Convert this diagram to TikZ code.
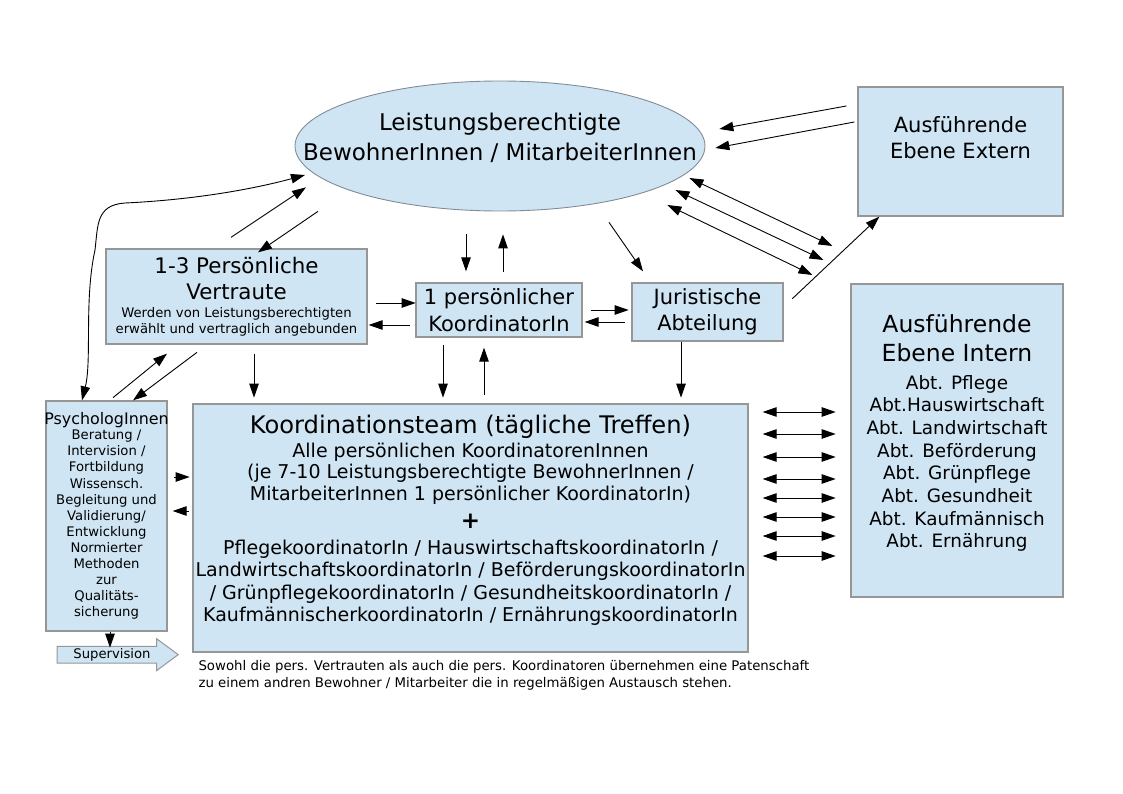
\documentclass[tikz,border=0pt]{standalone}
\usepackage{fontspec}
\setmainfont{DejaVu Sans}
\usetikzlibrary{arrows.meta,positioning,shapes.geometric,shapes.arrows}
\definecolor{boxblue}{RGB}{207,229,243}
\definecolor{boxline}{RGB}{150,150,150}
\definecolor{ellline}{RGB}{130,140,150}
\newcommand{\fsz}[2]{\fontsize{#1}{#2}\selectfont}
\tikzset{
  box/.style={draw=boxline, line width=1.3pt, fill=boxblue, inner sep=0pt, align=center},
  txt/.style={inner sep=0pt, align=center},
  link/.style={line width=0.9pt},
}
\begin{document}
\begin{tikzpicture}[x=1pt,y=1pt,>={Triangle[length=14pt,width=9.5pt]}]
\useasboundingbox (0,0) rectangle (1123,-794);
% boxes
\node[ellipse, draw=ellline, line width=0.9pt, fill=boxblue, minimum width=410pt, minimum height=130pt, inner sep=0pt] (ell) at (500,-146) {};
\node[txt, font=\fsz{23}{30}, below=31.9pt of ell.north] (elltext) {Leistungsberechtigte\\BewohnerInnen / MitarbeiterInnen};
\node[box, minimum width=205pt, minimum height=129pt] (ext) at (960.5,-151.5) {};
\node[txt, font=\fsz{21}{26}, below=29.6pt of ext.north] (exttext) {Ausführende\\Ebene Extern};
\node[box, minimum width=261pt, minimum height=95pt, font=\fsz{21.4}{26}] (vert) at (236.5,-296.5)
  {1-3 Persönliche\\Vertraute\\[-7.9pt]{\fsz{13.2}{16}Werden von Leistungsberechtigten}\\[-10pt]{\fsz{13.2}{16}erwählt und vertraglich angebunden}};
\node[box, minimum width=166pt, minimum height=54pt, font=\fsz{21}{27}] (koord) at (499,-310) {1 persönlicher\\KoordinatorIn};
\node[box, minimum width=151pt, minimum height=58pt, font=\fsz{21}{26}] (jur) at (707.5,-312) {Juristische\\Abteilung};
\node[box, minimum width=212pt, minimum height=313pt] (int) at (957,-440.5) {};
\node[txt, font=\fsz{18.4}{22.7}, below=30.7pt of int.north] (inttext)
  {{\fsz{23.5}{29}Ausführende}\\[6.3pt]{\fsz{23.5}{29}Ebene Intern}\\[5.2pt]Abt. Pflege\\Abt.Hauswirtschaft\\Abt. Landwirtschaft\\Abt. Beförderung\\Abt. Grünpflege\\Abt. Gesundheit\\Abt. Kaufmännisch\\Abt. Ernährung};
\node[box, minimum width=121pt, minimum height=230pt] (psy) at (106.5,-516) {};
\node[txt, font=\fsz{13.2}{16.1}, below=12pt of psy.north] (psytext)
  {{\fsz{15.9}{16}\makebox[116pt]{PsychologInnen}}\\[-1pt]Beratung /\\Intervision /\\Fortbildung\\Wissensch.\\Begleitung und\\Validierung/\\Entwicklung\\Normierter\\Methoden\\zur\\Qualitäts-\\sicherung};
\node[box, minimum width=555pt, minimum height=248pt] (team) at (470.5,-528) {};
\node[txt, font=\fsz{19}{22.4}, below=11.5pt of team.north] (teamtext)
  {{\fsz{24.2}{28}Koordinationsteam (tägliche Treffen)}\\[1.5pt]Alle persönlichen KoordinatorenInnen\\[-1.4pt](je 7-10 Leistungsberechtigte BewohnerInnen /\\[-0.4pt]MitarbeiterInnen 1 persönlicher KoordinatorIn)\\[5.8pt]{\fsz{23}{28}\bfseries +}\\[3.4pt]PflegekoordinatorIn / HauswirtschaftskoordinatorIn /\\LandwirtschaftskoordinatorIn / BeförderungskoordinatorIn\\/ GrünpflegekoordinatorIn / GesundheitskoordinatorIn /\\KaufmännischerkoordinatorIn / ErnährungskoordinatorIn};
\node[single arrow, draw=boxline, line width=1pt, fill=boxblue, single arrow head extend=7.5pt, single arrow tip angle=73, minimum height=121pt, inner sep=1.5pt, font=\fsz{13.2}{16}] (sup) at ([shift={(5.5,-23)}]psy.south) {Supervision};
\node[txt, align=left, font=\fsz{13.3}{17}, below right=8pt and 6pt of team.south west] (note)
  {Sowohl die pers. Vertrauten als auch die pers. Koordinatoren übernehmen eine Patenschaft\\zu einem andren Bewohner / Mitarbeiter die in regelmäßigen Austausch stehen.};
% arrows
\coordinate (ellnw) at ([shift={(-195,-29)}]ell.center);
\draw[link,<->] ([xshift=-24.5pt]psy.north) .. controls (92,-360) and (84,-300) .. (95,-250)
  .. controls (98,-225) and (96,-205) .. (125,-203) .. controls (190,-200) and (250,-190) .. (ellnw);
\draw[link,->] ([shift={(-5.5,11)}]vert.north) -- ++(75,50);
\draw[link,<-] ([shift={(21.5,-4)}]vert.north) -- ++(60,41);
\draw[link,->] ([shift={(8,-6.5)}]vert.east) -- ++(40,0);
\draw[link,<-] ([shift={(1,-28.5)}]vert.east) -- ++(41,0);
\draw[link,<-] ([shift={(-69.5,-9)}]vert.south) -- ++(-54,-44);
\draw[link,<-] ([xshift=26.5pt]psy.north) -- ++(64,48);
\draw[link,->] ([shift={(17.5,-9)}]vert.south) -- ++(0,-44);
\draw[link,<-] ([shift={(-33,11)}]koord.north) -- ++(0,37);
\draw[link,->] ([shift={(4,10)}]koord.north) -- ++(0,38);
\draw[link,<-] ([shift={(-64.5,11)}]jur.north) -- ++(-34,49);
\draw[link,->] ([xshift=8pt]koord.east) -- ++(38,0);
\draw[link,<-] ([shift={(2,-12)}]koord.east) -- ++(40,0);
\draw[link,->] ([shift={(-56,-7)}]koord.south) -- ++(0,-53);
\draw[link,<-] ([shift={(-15,-10)}]koord.south) -- ++(0,-47);
\draw[link,->] ([xshift=-26.5pt]jur.south) -- ++(0,-56);
\draw[link,->] ([shift={(-11,45.5)}]ext.west) -- ++(-127,-23);
\draw[link,->] ([shift={(-3,29.5)}]ext.west) -- ++(-139,-26);
\foreach \dx/\dy/\lx/\ly in {-16/-32/143/-68, -30/-44/148/-70, -38/-59/145/-70}
  \draw[link,<->] ([shift={(\dx,\dy)}]ell.east) -- ++(\lx,\ly);
\draw[link,<-] ([xshift=22pt]ext.south west) -- ++(-87,-82);
\foreach \y in {412,434,457,479,498,517,536,556}
  \draw[link,<->] ([shift={(14,528-\y)}]team.east) -- ++(73,0);
\draw[link,->] ([shift={(6,39)}]psy.east) -- ++(16,0);
\draw[link,<-] ([shift={(5,5)}]psy.east) -- ++(16,0);
\draw[link,->] ([xshift=3.5pt]psy.south) -- ++(0,-16);
\end{tikzpicture}
\end{document}
